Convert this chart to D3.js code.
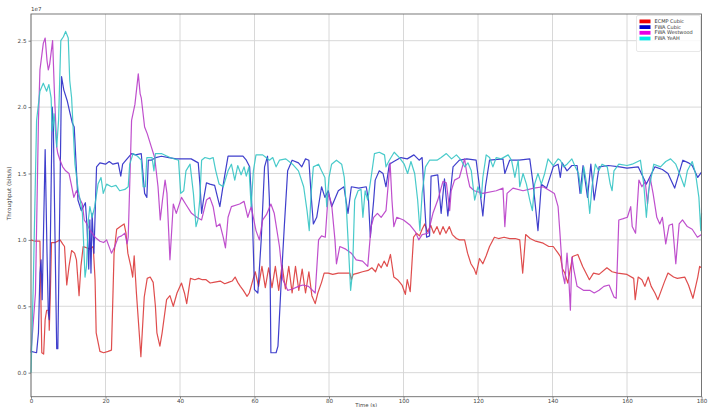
<!DOCTYPE html>
<html>
<head>
<meta charset="utf-8">
<script src="https://d3js.org/d3.v7.min.js"></script>
<style>
  body { margin: 0; background: #fff; }
  svg { display: block; font-family: "DejaVu Sans", sans-serif; }
</style>
</head>
<body>
<svg width="708" height="407"></svg>
<script>
// [time (s), throughput in 1e7 bits/s]
const ecmpCubic = [[0,1.0],[1,0.99],[2.4,0.99],[2.9,0.15],[3.4,0.14],[3.8,0.4],[4.2,0.47],[4.8,0.47],[4.9,0.32],[5.2,0.6],[5.5,0.98],[6.5,0.98],[7.8,1.0],[8.5,0.97],[9.0,0.95],[9.6,0.66],[10.2,0.8],[10.9,0.92],[11.7,0.9],[12.2,0.85],[12.9,0.58],[13.4,0.8],[14,0.95],[15,0.94],[15.8,0.93],[16.7,0.95],[17.2,0.7],[17.5,0.3],[18.5,0.16],[19.5,0.15],[20.7,0.16],[21.6,0.17],[22.3,0.9],[23,1.08],[24,1.1],[25,1.12],[25.5,1.05],[26,0.9],[26.8,0.8],[27.3,0.72],[27.7,0.88],[28.3,0.6],[28.8,0.4],[29.5,0.12],[30.4,0.57],[31.2,0.71],[32,0.72],[32.8,0.68],[33.4,0.5],[33.8,0.3],[34.6,0.2],[35.2,0.3],[36.4,0.55],[37.3,0.58],[38.2,0.5],[39.2,0.6],[40.4,0.675],[41.2,0.6],[41.8,0.52],[42.8,0.71],[44,0.70],[45,0.71],[46,0.70],[47,0.70],[48.1,0.675],[49,0.68],[50.8,0.69],[52,0.67],[53,0.68],[54,0.69],[54.8,0.72],[55.5,0.68],[56.2,0.65],[57,0.62],[58,0.575],[58.6,0.6],[59.3,0.67],[60.2,0.76],[61.1,0.65],[62,0.8],[62.9,0.64],[63.8,0.79],[64.7,0.64],[65.6,0.8],[66.5,0.62],[67.4,0.81],[68.3,0.63],[69.2,0.8],[70.1,0.6],[71,0.8],[71.9,0.62],[72.8,0.78],[73.7,0.6],[74.6,0.76],[75.4,0.58],[76.3,0.52],[77,0.6],[78,0.68],[78.7,0.75],[79.8,0.75],[81,0.74],[82.5,0.75],[84,0.75],[85.6,0.75],[86,0.7],[86.5,0.74],[87.8,0.75],[89,0.76],[90.5,0.77],[91.5,0.79],[92.5,0.76],[93.3,0.82],[94,0.79],[94.8,0.84],[95.6,0.8],[96.5,0.89],[97.4,0.72],[98.4,0.7],[99.6,0.66],[100.5,0.59],[101,0.7],[101.8,0.61],[102.7,1.02],[103.5,1.05],[104.3,1.03],[105.0,1.08],[105.7,1.12],[106.5,1.06],[107.3,1.11],[108.1,1.05],[109,1.10],[109.8,1.04],[110.6,1.1],[111.4,1.05],[112.3,1.1],[113.1,1.04],[114.2,1.01],[115,1.0],[116.4,1.0],[117.2,0.9],[118.1,0.82],[119,0.78],[119.5,0.74],[120.4,0.86],[121.3,0.82],[122.2,0.88],[123.1,0.95],[124.4,1.02],[125.5,1.01],[127,1.02],[128.5,1.01],[130,1.01],[131.2,1.0],[132,0.75],[132.8,1.04],[134,1.01],[135.5,0.99],[137.5,0.975],[139,0.95],[140.2,0.95],[141.5,0.9],[142.1,0.875],[142.7,0.78],[143.3,0.75],[144.1,0.675],[145.4,0.875],[146.8,0.89],[148.1,0.8],[149.9,0.7],[151,0.75],[152.5,0.74],[154.6,0.79],[156,0.76],[157.5,0.75],[160,0.74],[161.8,0.71],[162.2,0.55],[163,0.72],[164,0.7],[164.8,0.65],[165.7,0.72],[166.5,0.65],[167.5,0.6],[168.3,0.55],[170,0.68],[171,0.75],[172.5,0.72],[173.5,0.71],[175.5,0.72],[176.5,0.66],[177.7,0.56],[179,0.72],[179.5,0.8],[180,0.79]];

const fwaCubic = [[0,0.16],[1.5,0.15],[2,0.3],[2.4,0.75],[2.7,0.85],[3,0.55],[3.8,1.68],[4.3,0.9],[4.65,0.45],[4.9,0.4],[5.7,2.0],[6,1.85],[6.9,0.18],[7.2,0.18],[8.2,2.23],[8.8,2.13],[9.7,2.05],[10.5,1.95],[11.1,1.88],[11.6,1.85],[12.6,1.3],[13.5,1.22],[14.6,1.28],[15.0,1.12],[15.5,0.78],[15.8,1.15],[16.1,0.75],[16.4,1.2],[16.9,0.9],[17.6,1.55],[18.5,1.58],[20,1.57],[21,1.59],[22,1.57],[23.4,1.58],[24.1,1.48],[24.6,1.57],[25.5,1.6],[27,1.65],[28,1.64],[29.6,1.65],[30.5,1.35],[31.1,1.32],[31.5,1.6],[32.3,1.6],[33.5,1.62],[35,1.63],[37,1.62],[39,1.61],[41,1.61],[43,1.61],[44.9,1.58],[45.4,1.4],[45.8,1.2],[46.3,1.3],[47.1,1.43],[48,1.42],[49.3,1.41],[50,1.33],[50.7,1.25],[51.8,1.45],[52.9,1.63],[55,1.63],[56.9,1.63],[57.8,1.6],[58.7,1.55],[59.4,1.2],[60,0.625],[60.9,0.6],[61.8,1.0],[62.7,1.55],[63.5,1.63],[64,1.3],[64.4,0.15],[65.8,0.15],[66.3,0.2],[67.2,0.7],[68,1.1],[68.9,1.52],[70.1,1.6],[71.8,1.58],[72.7,1.55],[73.7,1.61],[74.6,1.6],[75.3,1.3],[75.8,1.12],[76.7,1.17],[78,1.4],[78.9,1.32],[79.8,1.37],[80.7,1.25],[82.5,1.37],[84,1.4],[85.1,1.2],[86,1.4],[88,1.39],[90,1.4],[90.6,1.3],[91.1,1.02],[92,1.3],[92.4,1.45],[93.5,1.52],[94.5,1.5],[95.3,1.4],[96.2,1.57],[97.4,1.59],[99.3,1.62],[101,1.61],[102.8,1.64],[104.2,1.6],[105,1.62],[105.6,1.3],[106.2,1.02],[107,1.03],[107.4,1.48],[109.2,1.49],[110.1,1.2],[111,1.46],[111.9,1.18],[113.3,1.55],[115,1.6],[117,1.61],[119.5,1.6],[120.4,1.4],[121.3,1.18],[122,1.4],[123.1,1.6],[126.7,1.61],[127.2,1.5],[128.5,1.6],[131,1.6],[133.9,1.61],[134.8,1.42],[136.1,1.07],[136.7,1.3],[137,1.42],[138.4,1.39],[140.2,1.55],[141.5,1.57],[142.1,1.47],[142.6,1.58],[143.9,1.52],[145.2,1.56],[146.6,1.56],[147.4,1.35],[148.2,1.56],[149.4,1.32],[150.3,1.57],[151.2,1.3],[152.5,1.55],[155,1.56],[158,1.55],[160,1.54],[163,1.55],[165.2,1.42],[167.5,1.55],[169.5,1.53],[171,1.5],[172.8,1.39],[175,1.6],[176.5,1.58],[177.5,1.56],[179,1.47],[180,1.51]];

const fwaWestwood = [[0,0.15],[1.2,0.6],[2.0,1.9],[2.4,2.28],[3.3,2.48],[3.8,2.52],[4.3,2.35],[4.65,2.28],[5.0,2.32],[5.8,2.5],[6.3,2.1],[6.9,1.7],[7.2,1.65],[7.8,1.6],[8.5,1.55],[9.3,1.52],[10.2,1.5],[10.8,1.42],[11.5,1.32],[12.2,1.37],[12.9,1.32],[13.8,1.27],[14.3,1.15],[15,1.12],[15.9,1.07],[17.2,1.02],[18.5,0.99],[19.5,0.98],[20.3,1.0],[21.6,0.9],[22.5,0.95],[23.4,1.02],[24.3,1.03],[25.2,1.05],[25.8,0.97],[26.1,1.02],[27,1.9],[27.9,2.02],[28.8,2.25],[29.3,2.1],[29.6,2.07],[30.5,1.85],[31.2,1.8],[32.3,1.7],[33.2,1.62],[34.1,1.4],[34.7,1.15],[35.3,1.3],[36,1.45],[36.5,1.35],[37.3,0.85],[38.2,1.27],[39,1.2],[40.4,1.32],[41.5,1.27],[43.1,1.2],[44.5,1.17],[45.8,1.15],[47.1,1.3],[48,1.32],[48.9,1.25],[49.8,1.1],[50.7,1.12],[51.6,1.02],[52.2,0.94],[52.9,1.17],[53.8,1.25],[56,1.27],[57.2,1.29],[58.2,1.17],[59.1,1.25],[60.4,1.07],[61.3,1.0],[62.2,1.15],[63.2,1.19],[64.4,1.27],[65.3,1.2],[66.7,0.95],[67.6,0.7],[68.9,0.62],[70.2,0.63],[71.8,0.65],[73,0.66],[74.5,0.65],[76.3,0.6],[77.2,1.0],[78,1.03],[79,1.02],[79.8,1.35],[80.7,1.27],[81.6,1.0],[82,0.82],[82.9,0.95],[84.5,0.93],[86,0.9],[87.3,0.85],[89,0.84],[90.4,0.8],[91.3,1.1],[92,1.17],[93,1.2],[94,1.17],[95.3,1.22],[96.4,1.58],[96.9,1.3],[97.4,1.1],[98.2,1.17],[100,1.15],[101.8,1.11],[103.2,1.06],[104.1,1.0],[105,1.04],[106.6,1.05],[107.9,1.2],[109.2,1.3],[110.6,1.44],[111.5,1.43],[112.4,1.22],[112.8,1.37],[113.7,1.45],[115,1.47],[116.4,1.61],[117,1.5],[117.8,1.4],[119,1.37],[121.3,1.35],[124.9,1.37],[126.7,1.39],[127.2,1.1],[127.8,1.35],[129.4,1.39],[132.1,1.37],[135,1.39],[137.5,1.4],[139.3,1.37],[140.5,1.35],[141.5,1.25],[142,1.05],[142.7,0.75],[143.3,0.67],[143.9,0.9],[144.3,0.75],[144.8,0.47],[145.2,0.87],[145.7,0.78],[146.6,0.65],[148.3,0.62],[150,0.62],[151.2,0.6],[152.5,0.62],[153.8,0.65],[155.2,0.66],[156.5,0.57],[157.1,0.56],[157.8,1.15],[159,1.16],[160.1,1.17],[161,1.25],[161.4,1.1],[162.3,1.05],[163.2,1.45],[164,1.4],[164.9,1.44],[165.5,1.27],[166.2,1.47],[167,1.35],[168,1.17],[168.8,1.12],[169.5,1.17],[170.4,0.97],[171.3,1.11],[172.2,1.12],[173.1,0.82],[174,1.12],[174.9,1.15],[176.2,1.1],[177.5,1.08],[178.9,1.02],[180,1.04]];

const fwaYeah = [[0,0],[0.6,0.65],[1.5,1.9],[2.4,2.12],[3.3,2.18],[4.2,2.12],[4.8,2.17],[5.4,2.07],[5.7,1.82],[6.2,1.95],[6.9,1.7],[7.4,1.9],[8.0,2.5],[8.7,2.53],[9.3,2.57],[10,2.52],[10.4,2.2],[10.9,2.07],[11.8,1.57],[12.7,1.37],[13.2,1.3],[13.8,1.2],[14.5,0.72],[14.9,0.8],[15.4,1.15],[15.8,1.25],[16.4,1.17],[17.1,1.25],[18,1.42],[18.8,1.47],[19.4,1.35],[20.3,1.42],[21.6,1.4],[22.8,1.41],[23.8,1.37],[25.2,1.38],[26.1,1.4],[26.5,1.57],[27.4,1.65],[28.6,1.63],[29.6,1.6],[30.1,1.4],[30.7,1.4],[31.1,1.62],[32.5,1.62],[33,1.52],[33.4,1.65],[35,1.65],[37.3,1.62],[39.6,1.6],[40.2,1.35],[41,1.37],[41.6,1.52],[42.7,1.57],[43.6,1.35],[44.3,1.1],[44.8,1.15],[45.3,1.3],[45.8,1.6],[46.7,1.62],[48,1.61],[48.9,1.62],[49.6,1.52],[50.5,1.42],[51.6,1.4],[52.9,1.52],[53.8,1.57],[54.7,1.45],[55.5,1.56],[56.4,1.49],[57.2,1.55],[57.8,1.48],[58.5,1.55],[59.1,1.25],[59.7,1.52],[60.4,1.64],[62.2,1.64],[63.1,1.62],[64,1.6],[64.9,1.62],[65.8,1.55],[66.7,1.6],[68.4,1.61],[70.2,1.57],[71.8,1.52],[73.2,1.4],[74.1,1.22],[74.7,1.07],[75.2,1.35],[75.8,1.55],[77.2,1.57],[78,1.52],[78.9,1.47],[79.4,1.25],[80,1.47],[80.7,1.57],[82,1.6],[83.4,1.57],[84.1,1.47],[84.7,1.22],[85.3,0.9],[85.8,0.62],[86.3,0.75],[86.9,1.3],[87.8,1.37],[88.6,1.38],[89.1,1.17],[89.7,1.37],[90.4,1.3],[91.3,1.47],[92.2,1.65],[93.5,1.66],[94.9,1.64],[95.3,1.55],[96.2,1.6],[97.5,1.66],[98.9,1.62],[100.2,1.57],[101.1,1.5],[102,1.59],[103,1.5],[103.8,1.3],[104.4,1.07],[105,1.35],[105.9,1.55],[107,1.6],[109,1.6],[110.1,1.62],[111.5,1.65],[112.9,1.61],[114.2,1.64],[115.5,1.6],[116.4,1.55],[117.3,1.58],[118.2,1.52],[119.1,1.3],[120,1.4],[120.9,1.32],[121.3,1.47],[122.2,1.64],[123.1,1.62],[124,1.55],[124.9,1.62],[126.2,1.61],[128.1,1.64],[129,1.6],[129.9,1.47],[130.8,1.6],[131.2,1.4],[132.1,1.5],[133,1.42],[133.9,1.3],[134.6,1.22],[135.2,1.42],[136.1,1.5],[137,1.42],[137.9,1.5],[138.8,1.61],[140.2,1.56],[141.5,1.61],[142.1,1.6],[143,1.55],[143.9,1.57],[145.2,1.61],[146.1,1.55],[147,1.5],[147.7,1.35],[148.4,1.55],[149.3,1.4],[150,1.2],[150.6,1.4],[151.5,1.57],[152.4,1.52],[153.3,1.57],[154.7,1.55],[155.5,1.42],[156,1.37],[156.5,1.52],[157.8,1.57],[160,1.56],[161.4,1.57],[163.6,1.6],[164.5,1.42],[165.2,1.17],[165.8,1.37],[167.2,1.57],[169,1.55],[170.4,1.59],[171.7,1.61],[173.1,1.57],[174.5,1.47],[175.4,1.4],[176.2,1.52],[177.5,1.59],[178.4,1.5],[179.3,1.32],[179.8,1.07],[180,1.2]];

const seriesNames = ["ECMP Cubic", "FWA Cubic", "FWA Westwood", "FWA YeAH"];
const lineColors = ["#dc3a3a", "#2a2ac6", "#b83cc8", "#34c4c4"];
const legendColors = ["#f00000", "#0000cc", "#e600e6", "#00eaea"];
const xTicks = [0, 20, 40, 60, 80, 100, 120, 140, 160, 180];
const yTicks = [0, 0.5, 1.0, 1.5, 2.0, 2.5];

const allSeries = [ecmpCubic, fwaCubic, fwaWestwood, fwaYeah];

const svg = d3.select("svg");
const x = d3.scaleLinear().domain([0, 180]).range([31, 701.5]);
const y = d3.scaleLinear().domain([-0.181, 2.701]).range([396.7, 14]);

// grid
svg.append("g")
  .selectAll("line")
  .data(xTicks)
  .join("line")
  .attr("x1", d => x(d)).attr("x2", d => x(d))
  .attr("y1", y.range()[1]).attr("y2", y.range()[0])
  .attr("stroke", "#d4d4d4").attr("stroke-width", 0.9);

svg.append("g")
  .selectAll("line")
  .data(yTicks)
  .join("line")
  .attr("y1", d => y(d)).attr("y2", d => y(d))
  .attr("x1", x.range()[0]).attr("x2", x.range()[1])
  .attr("stroke", "#d4d4d4").attr("stroke-width", 0.9);

// lines
const line = d3.line()
  .x(d => x(d[0]))
  .y(d => y(d[1]));

svg.append("g")
  .selectAll("path")
  .data(allSeries)
  .join("path")
  .attr("d", line)
  .attr("fill", "none")
  .attr("stroke", (d, i) => lineColors[i])
  .attr("stroke-width", 1.2)
  .attr("stroke-opacity", 0.9)
  .attr("stroke-linejoin", "round");

// frame
svg.append("rect")
  .attr("x", x.range()[0]).attr("y", y.range()[1])
  .attr("width", x.range()[1] - x.range()[0])
  .attr("height", y.range()[0] - y.range()[1])
  .attr("fill", "none").attr("stroke", "#6a6a6a").attr("stroke-width", 0.9);

// axes
const xAxis = svg.append("g")
  .attr("transform", `translate(0,${y.range()[0]})`)
  .call(d3.axisBottom(x).tickValues(xTicks).tickSize(2).tickPadding(0.5).tickFormat(d3.format("d")));
const yAxis = svg.append("g")
  .attr("transform", `translate(${x.range()[0]},0)`)
  .call(d3.axisLeft(y).tickValues(yTicks).tickSize(2.5).tickPadding(2).tickFormat(d3.format(".1f")));

[xAxis, yAxis].forEach(g => {
  g.select(".domain").remove();
  g.selectAll(".tick line").attr("stroke", "#6a6a6a").attr("stroke-width", 0.8);
  g.selectAll(".tick text").attr("fill", "#444").attr("font-size", 5.6)
    .attr("font-family", "DejaVu Sans, sans-serif");
});

// offset and axis labels
svg.append("text")
  .attr("x", 31).attr("y", 11)
  .attr("font-size", 5.6).attr("fill", "#444")
  .text("1e7");

svg.append("text")
  .attr("x", (x.range()[0] + x.range()[1]) / 2).attr("y", 406.8)
  .attr("text-anchor", "middle")
  .attr("font-size", 5.4).attr("fill", "#444")
  .text("Time (s)");

svg.append("text")
  .attr("transform", `translate(11,${(y.range()[0] + y.range()[1]) / 2 - 12}) rotate(-90)`)
  .attr("text-anchor", "middle")
  .attr("font-size", 5.6).attr("fill", "#444")
  .text("Throughput (bits/s)");

// legend
const legend = svg.append("g").attr("transform", "translate(636.5,15.5)");
legend.append("rect")
  .attr("width", 64).attr("height", 36)
  .attr("fill", "#fff").attr("fill-opacity", 0.85)
  .attr("stroke", "#e2e2e2").attr("stroke-width", 0.8).attr("rx", 1.5);

const items = legend.selectAll("g.item")
  .data(seriesNames)
  .join("g")
  .attr("class", "item")
  .attr("transform", (d, i) => `translate(3,${4 + i * 5.7})`);
items.append("rect")
  .attr("width", 11).attr("height", 3.8)
  .attr("fill", (d, i) => legendColors[i]);
items.append("text")
  .attr("x", 15).attr("y", 3.4)
  .attr("font-size", 5).attr("fill", "#333")
  .text(d => d);
</script>
</body>
</html>
